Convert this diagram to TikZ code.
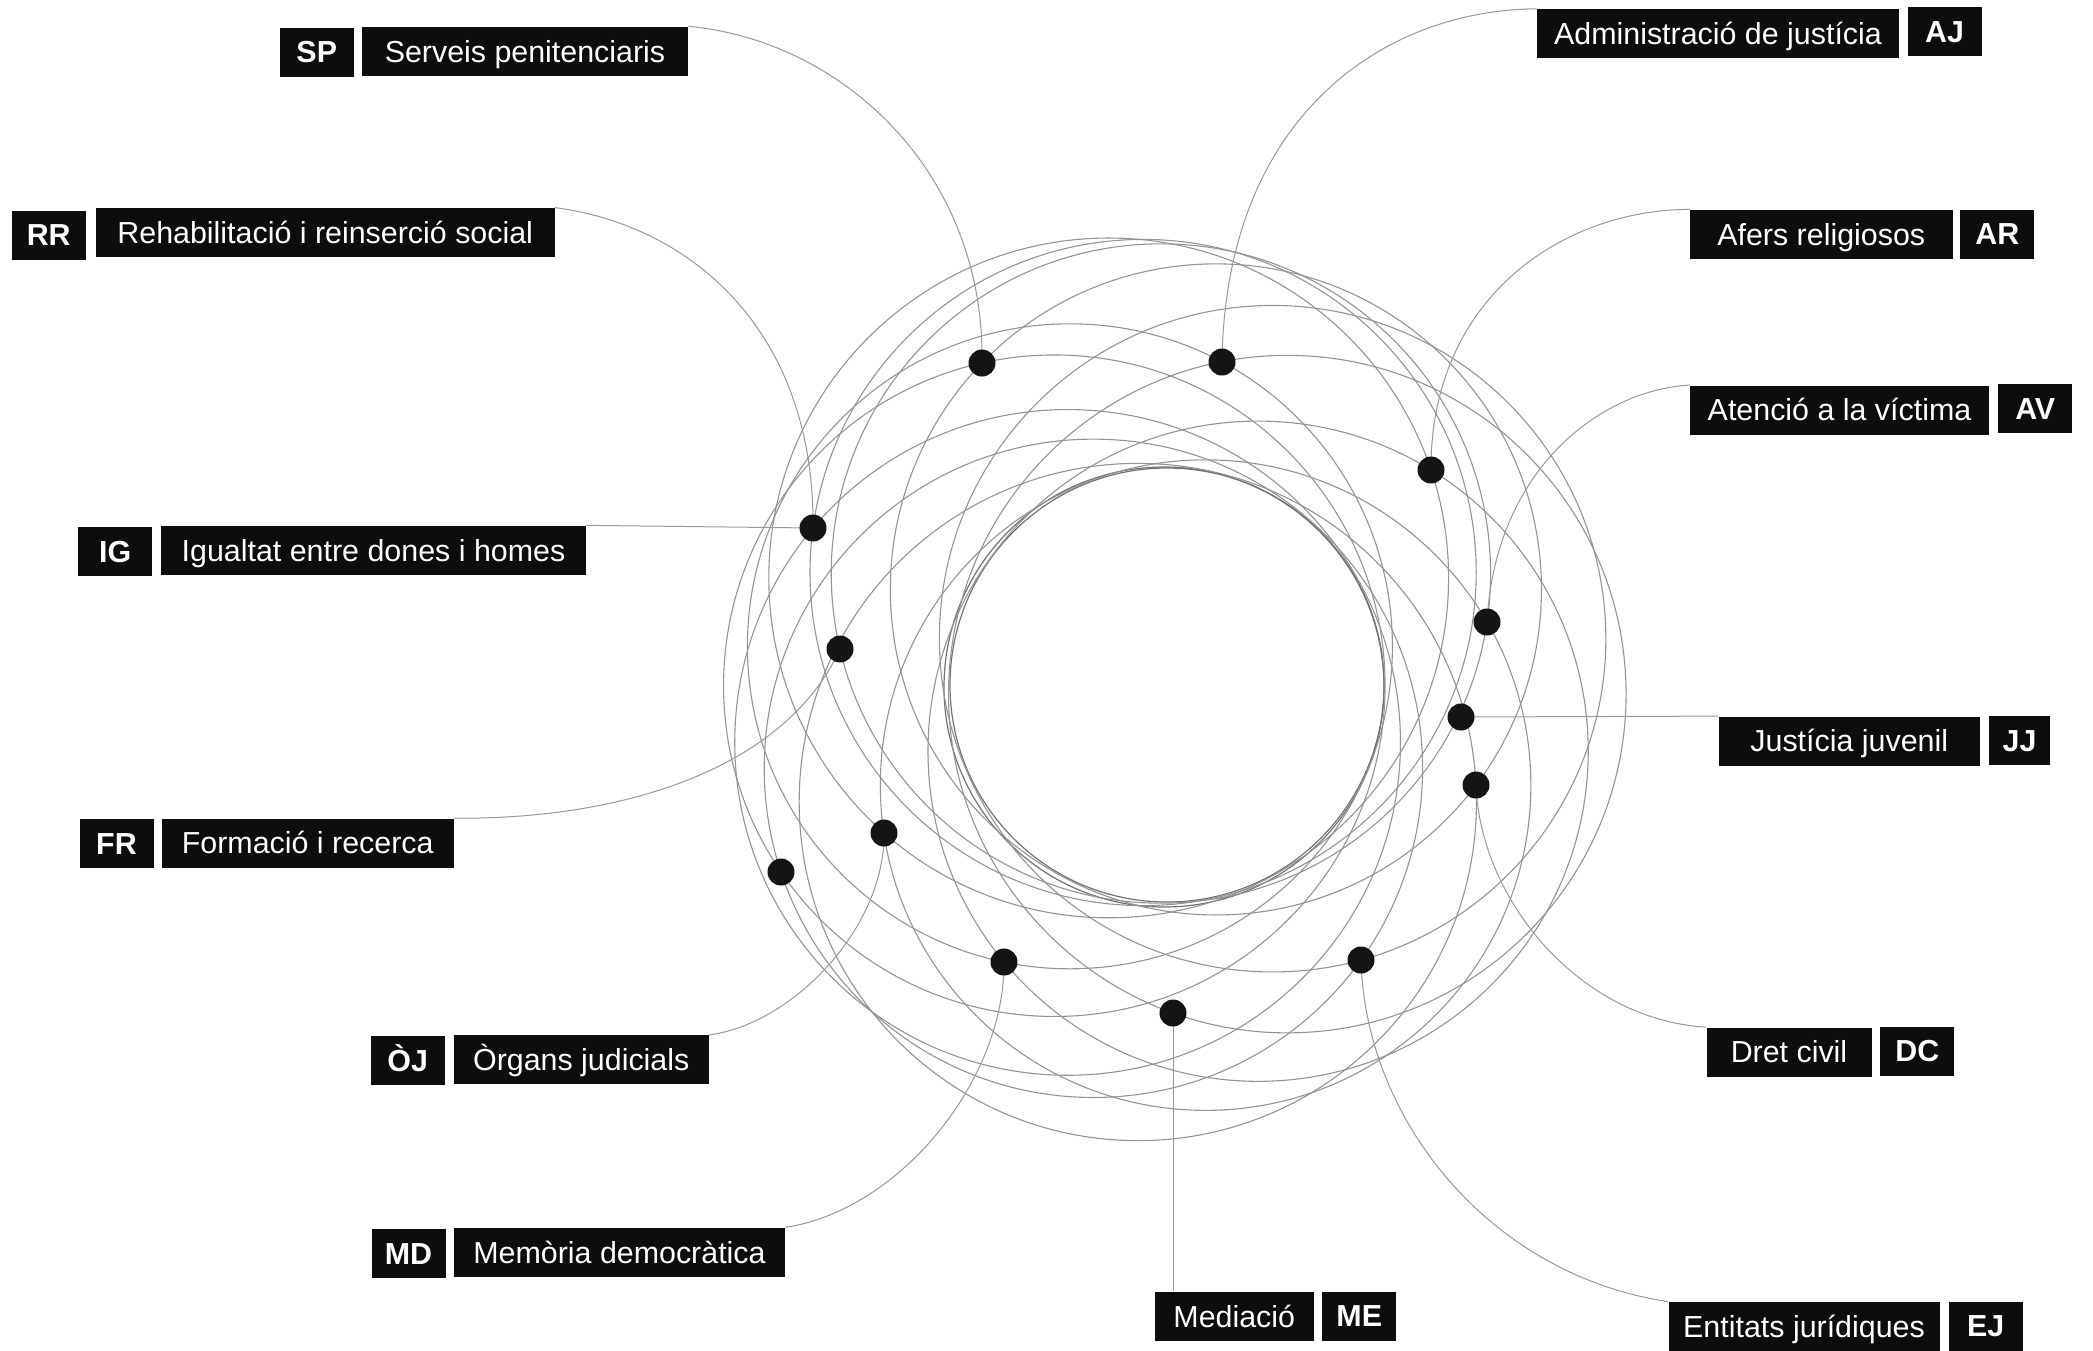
\documentclass[tikz,border=0pt]{standalone}
\usepackage{fontspec}
\setmainfont{Liberation Sans}
\usetikzlibrary{calc,backgrounds}

% circle with given centre (#1,#2) passing through dot #3
\newcommand\ringat[3]{%
  \draw[ring] let \p1=($(#3.center)-(#1,#2)$), \n1={veclen(\x1,\y1)} in (#1,#2) circle[radius=\n1];
}

\begin{document}
\begin{tikzpicture}[x=0.5pt,y=-0.5pt,
  ring/.style={draw=black!42, line width=0.55pt},
  core/.style={draw=black!55, line width=0.6pt},
  conn/.style={draw=black!40, line width=0.5pt},
  dot/.style={circle, fill=black!92, inner sep=0pt, minimum size=13.5pt},
  box/.style={fill=black!95, text=white, inner sep=0pt, minimum height=24.5pt,
              text height=10.9pt, text depth=0pt, font=\fontsize{15.2pt}{18pt}\selectfont},
  abbr/.style={box, minimum width=37pt, font=\fontsize{15.2pt}{18pt}\selectfont\bfseries}]
\useasboundingbox (0,0) rectangle (2093,1350);

% ---- dots
\node[dot] (dSP) at (982,363) {};
\node[dot] (dAJ) at (1222,362) {};
\node[dot] (dAR) at (1431,470) {};
\node[dot] (dAV) at (1487,622) {};
\node[dot] (dJJ) at (1461,717) {};
\node[dot] (dDC) at (1476,785) {};
\node[dot] (dEJ) at (1361,960) {};
\node[dot] (dME) at (1173,1013) {};
\node[dot] (dMD) at (1004,962) {};
\node[dot] (dOJ) at (884,833) {};
\node[dot] (dX)  at (781,872) {};
\node[dot] (dFR) at (840,649) {};
\node[dot] (dIG) at (813,528) {};

% ---- label boxes, left side
\node[abbr] (aSP) at (316.75,52) {SP};
\node[box, minimum width=163pt] (lSP) at (525,51.25) {Serveis penitenciaris};
\node[abbr] (aRR) at (48.75,235) {RR};
\node[box, minimum width=229.25pt] (lRR) at (325.25,232.5) {Rehabilitació i reinserció social};
\node[abbr] (aIG) at (115.25,551.5) {IG};
\node[box, minimum width=212.5pt] (lIG) at (373.5,550.25) {Igualtat entre dones i homes};
\node[abbr] (aFR) at (116.5,843.5) {FR};
\node[box, minimum width=145.75pt] (lFR) at (307.75,843) {Formació i recerca};
\node[abbr] (aOJ) at (407.75,1060.25) {ÒJ};
\node[box, minimum width=127.25pt] (lOJ) at (581.25,1059.75) {Òrgans judicials};
\node[abbr] (aMD) at (408.5,1253.5) {MD};
\node[box, minimum width=165.5pt] (lMD) at (619.5,1252.25) {Memòria democràtica};

% ---- bottom
\node[box, minimum width=79.75pt] (lME) at (1234.25,1316.25) {Mediació};
\node[abbr] (aME) at (1359.25,1316) {ME};

% ---- right side
\node[box, minimum width=181pt] (lAJ) at (1718,33.75) {Administració de justícia};
\node[abbr] (aAJ) at (1944.5,31.75) {AJ};
\node[box, minimum width=131.25pt] (lAR) at (1821.25,234.25) {Afers religiosos};
\node[abbr] (aAR) at (1997.25,234) {AR};
\node[box, minimum width=149.5pt] (lAV) at (1839.5,410) {Atenció a la víctima};
\node[abbr] (aAV) at (2035.25,408.75) {AV};
\node[box, minimum width=130.75pt] (lJJ) at (1849.25,741) {Justícia juvenil};
\node[abbr, minimum width=30.5pt] (aJJ) at (2019.5,740.5) {JJ};
\node[box, minimum width=82.5pt] (lDC) at (1789,1052) {Dret civil};
\node[abbr] (aDC) at (1917.25,1051) {DC};
\node[box, minimum width=135.5pt] (lEJ) at (1804,1326.5) {Entitats jurídiques};
\node[abbr] (aEJ) at (1985.75,1326) {EJ};

\begin{pgfonlayer}{background}
\fill[white] (0,0) rectangle (2093,1350);
% ---- inner ring
\draw[core] (1167,685) circle[radius=108.5pt];
\draw[core] (1164,687) circle[radius=110pt];
% ---- spirograph circles (all tangent to the inner ring)
\ringat{1287.3}{694.1}{dME}
\ringat{1272.6}{638.7}{dEJ}
\ringat{1215.9}{589.4}{dSP}
\ringat{1160.9}{573.5}{dFR}
\ringat{1143.1}{572.5}{dIG}
\ringat{1108.7}{577.9}{dAR}
\ringat{1069.9}{646.3}{dMD}
\ringat{1054.3}{685.7}{dX}
\ringat{1067.6}{742.4}{dIG}
\ringat{1093.4}{768.3}{dEJ}
\ringat{1137.8}{802.0}{dDC}
\ringat{1205.6}{785.1}{dAV}
\ringat{1258.1}{751.2}{dAR}
% ---- connectors
\draw[conn] (lSP.north east) .. controls (840,40) and (985,170) .. (dSP.center);
\draw[conn] (lRR.north east) .. controls (690,225) and (815,330) .. (dIG.center);
\draw[conn] (lIG.north east) -- (dIG.center);
\draw[conn] (lFR.north east) .. controls (620,820) and (785,770) .. (dFR.center);
\draw[conn] (lOJ.north east) .. controls (790,1025) and (885,930) .. (dOJ.center);
\draw[conn] (lMD.north east) .. controls (900,1210) and (1005,1080) .. (dMD.center);
\draw[conn] (dME.center) -- (dME.center |- lME.north);
\draw[conn] (dEJ.center) .. controls (1365,1120) and (1490,1275) .. (lEJ.north west);
\draw[conn] (dDC.center) .. controls (1480,900) and (1580,1020) .. (lDC.north west);
\draw[conn] (dJJ.center) -- (lJJ.north west);
\draw[conn] (lAV.north west) .. controls (1600,390) and (1495,470) .. (dAV.center);
\draw[conn] (lAR.north west) .. controls (1560,210) and (1430,300) .. (dAR.center);
\draw[conn] (lAJ.north west) .. controls (1380,10) and (1225,120) .. (dAJ.center);
\end{pgfonlayer}
\end{tikzpicture}
\end{document}
